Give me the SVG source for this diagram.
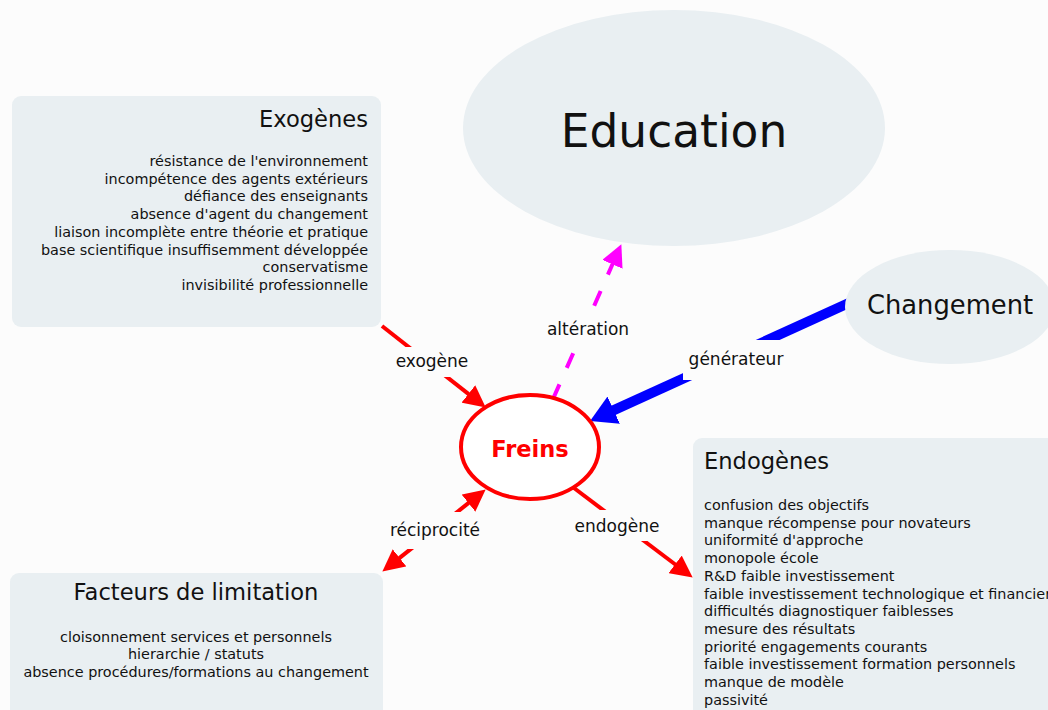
<svg xmlns="http://www.w3.org/2000/svg" width="1048" height="710" viewBox="0 0 1048 710">
<style>
.box{fill:#e9eff2;}
.t{font-family:"DejaVu Sans","Verdana",sans-serif;fill:#111;}
.title{font-size:22.6px;}
.item{font-size:14.4px;}
.lbl{font-family:"DejaVu Sans","Verdana",sans-serif;font-size:17px;fill:#111;text-anchor:middle;}
.lblbg{fill:#fcfcfc;}
.red{stroke:#ff0000;stroke-width:4;fill:none;}
</style>
<defs>
<marker id="ahRed" markerUnits="userSpaceOnUse" markerWidth="22" markerHeight="22" viewBox="0 0 20 20" refX="1" refY="10" orient="auto">
<path d="M0,0 L20,10 L0,20 z" fill="#ff0000"/>
</marker>
<marker id="ahRedStart" markerUnits="userSpaceOnUse" markerWidth="22" markerHeight="22" viewBox="0 0 20 20" refX="19" refY="10" orient="auto">
<path d="M20,0 L0,10 L20,20 z" fill="#ff0000"/>
</marker>
<marker id="ahMag" markerUnits="userSpaceOnUse" markerWidth="22" markerHeight="22" viewBox="0 0 20 20" refX="1" refY="10" orient="auto">
<path d="M0,0 L20,10 L0,20 z" fill="#ff00ff"/>
</marker>
<marker id="ahBlue" markerUnits="userSpaceOnUse" markerWidth="26" markerHeight="30" viewBox="0 0 26 30" refX="1" refY="15" orient="auto">
<path d="M0,0 L26,15 L0,30 z" fill="#0000ff"/>
</marker>
</defs>
<rect x="0" y="0" width="1048" height="710" fill="#fcfcfc"/>

<g id="connectors">
<line id="c-exogene" class="red" x1="382" y1="326" x2="469.3" y2="394.6" marker-end="url(#ahRed)"/>
<line id="c-alteration" x1="553" y1="399" x2="612.9" y2="263.3" stroke="#ff00ff" stroke-width="4" stroke-dasharray="16 18" marker-end="url(#ahMag)"/>
<line id="c-generateur" x1="862" y1="297" x2="612.8" y2="410.6" stroke="#0000ff" stroke-width="10" marker-end="url(#ahBlue)"/>
<line id="c-endogene" class="red" x1="570" y1="485" x2="676" y2="565" marker-end="url(#ahRed)"/>
<line id="c-reciprocite" class="red" x1="398.7" y1="558.6" x2="469.3" y2="502.4" marker-start="url(#ahRedStart)" marker-end="url(#ahRed)"/>
<rect class="lblbg" x="392" y="347" width="82" height="30"/>
<text class="lbl" x="432" y="367">exogène</text>
<rect class="lblbg" x="543" y="315" width="90" height="30"/>
<text class="lbl" x="588" y="335">altération</text>
<rect class="lblbg" x="683" y="340" width="106" height="40"/>
<text class="lbl" x="736" y="365">générateur</text>
<rect class="lblbg" x="570" y="510" width="94" height="31"/>
<text class="lbl" x="617" y="532">endogène</text>
<rect class="lblbg" x="385" y="512" width="100" height="37"/>
<text class="lbl" x="435" y="536">réciprocité</text>
</g>

<g id="node-exogenes">
<rect class="box" x="12" y="96" width="369" height="231" rx="9"/>
<text class="t title" x="368" y="127" text-anchor="end">Exogènes</text>
<g class="t item" text-anchor="end">
<text x="368" y="166">résistance de l'environnement</text>
<text x="368" y="183.7">incompétence des agents extérieurs</text>
<text x="368" y="201.4">défiance des enseignants</text>
<text x="368" y="219.1">absence d'agent du changement</text>
<text x="368" y="236.8">liaison incomplète entre théorie et pratique</text>
<text x="368" y="254.5">base scientifique insuffisemment développée</text>
<text x="368" y="272.2">conservatisme</text>
<text x="368" y="289.9">invisibilité professionnelle</text>
</g>
</g>

<g id="node-education">
<ellipse class="box" cx="674" cy="128" rx="211" ry="118"/>
<text class="t" x="674" y="147" font-size="45.5" text-anchor="middle">Education</text>
</g>

<g id="node-changement">
<ellipse class="box" cx="950" cy="307" rx="105" ry="57"/>
<text class="t" x="950" y="314" font-size="25.8" text-anchor="middle">Changement</text>
</g>

<g id="node-freins">
<ellipse cx="530" cy="447" rx="69" ry="52" fill="#ffffff" stroke="#ff0000" stroke-width="4"/>
<text x="530" y="457" font-family="DejaVu Sans, Verdana, sans-serif" font-weight="bold" font-size="22.5" fill="#ff0000" text-anchor="middle">Freins</text>
</g>

<g id="node-endogenes">
<rect class="box" x="693" y="438" width="370" height="290" rx="9"/>
<text class="t title" x="704" y="469">Endogènes</text>
<g class="t item">
<text x="704" y="510">confusion des objectifs</text>
<text x="704" y="527.7">manque récompense pour novateurs</text>
<text x="704" y="545.4">uniformité d'approche</text>
<text x="704" y="563.1">monopole école</text>
<text x="704" y="580.8">R&amp;D faible investissement</text>
<text x="704" y="598.5">faible investissement technologique et financier</text>
<text x="704" y="616.2">difficultés diagnostiquer faiblesses</text>
<text x="704" y="633.9">mesure des résultats</text>
<text x="704" y="651.6">priorité engagements courants</text>
<text x="704" y="669.3">faible investissement formation personnels</text>
<text x="704" y="687">manque de modèle</text>
<text x="704" y="704.7">passivité</text>
</g>
</g>

<g id="node-facteurs">
<rect class="box" x="10" y="573" width="373" height="160" rx="9"/>
<text class="t title" x="196" y="600" text-anchor="middle">Facteurs de limitation</text>
<g class="t item" text-anchor="middle">
<text x="196" y="641.5">cloisonnement services et personnels</text>
<text x="196" y="659.2">hierarchie / statuts</text>
<text x="196" y="676.9">absence procédures/formations au changement</text>
</g>
</g>
</svg>
